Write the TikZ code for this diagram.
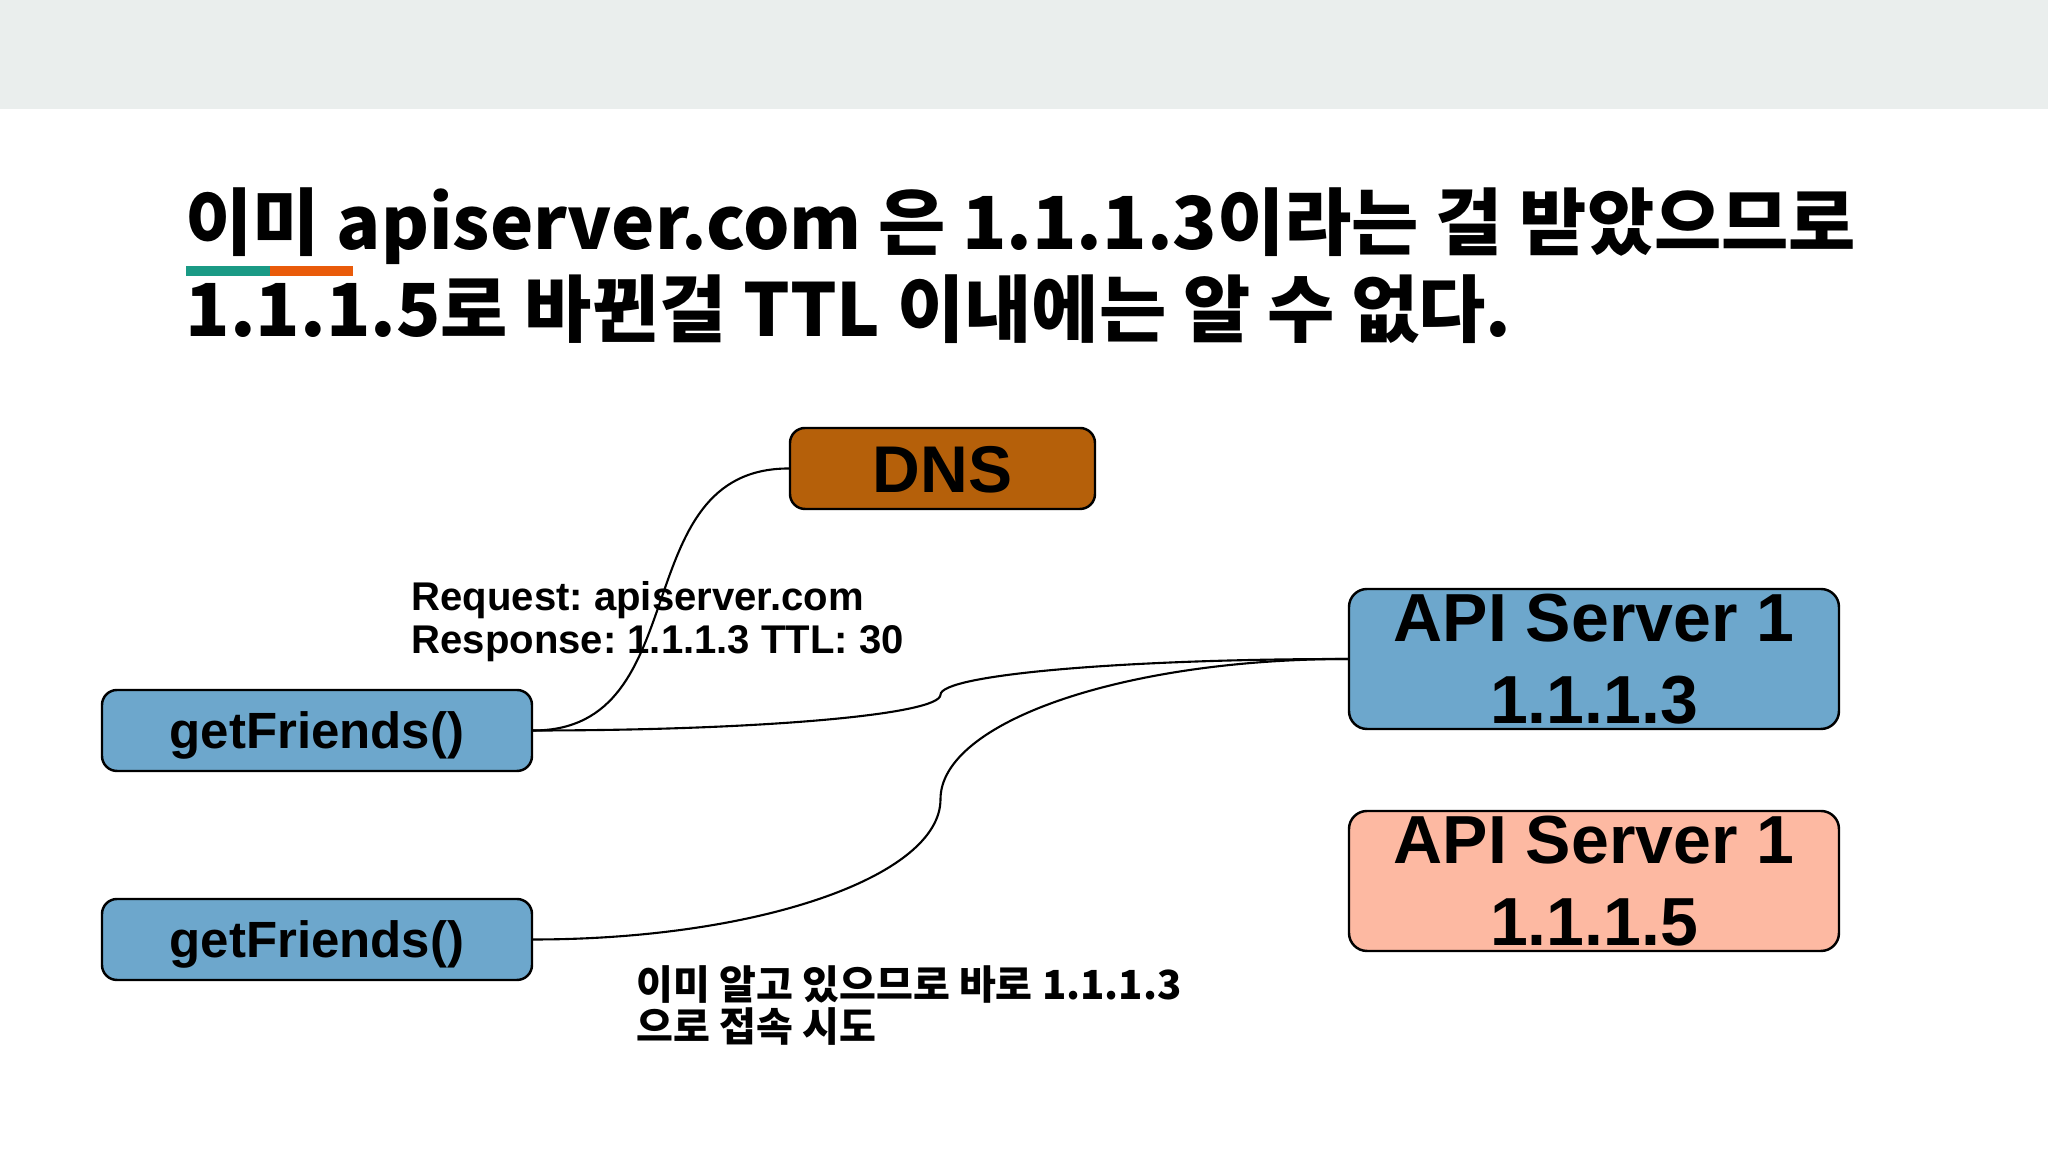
\documentclass[tikz,border=0pt]{standalone}
\usepackage{fontspec}
\setmainfont{Liberation Sans}
\newfontfamily\krfont{Noto Sans CJK KR}
\usetikzlibrary{calc, positioning}
\frenchspacing

\definecolor{bandgray}{HTML}{EAEEED}
\definecolor{tealbar}{HTML}{1A9A85}
\definecolor{orangebar}{HTML}{E95B0A}
\definecolor{dnsbrown}{HTML}{B5600A}
\definecolor{srvblue}{HTML}{6DA7CC}
\definecolor{srvsalmon}{HTML}{FDB9A2}

\begin{document}
\begin{tikzpicture}[
  box/.style={draw=black, line width=0.7pt, rounded corners=0.15cm, inner sep=0pt},
  callbox/.style={box, fill=srvblue, minimum width=4.30cm, minimum height=0.81cm,
    text height=10pt, text depth=0pt, font=\bfseries\fontsize{14.5pt}{16pt}\selectfont},
  srvbox/.style={box, rounded corners=0.18cm, minimum width=4.90cm, minimum height=1.40cm,
    align=center, font=\bfseries\fontsize{19.35pt}{23.3pt}\selectfont},
  wire/.style={draw=black, line width=0.6pt},
]
\useasboundingbox (0,0) rectangle (20.48,11.52);
\fill[white] (0,0) rectangle (20.48,11.52);
\fill[bandgray] (0,10.43) rectangle (20.48,11.52);

% title
\node[anchor=base west, inner sep=0pt, font=\krfont\bfseries\fontsize{20.8pt}{24.8pt}\selectfont]
  (title1) at (1.85,9.02) {이미 apiserver.com 은 1.1.1.3이라는 걸 받았으므로};
\node[anchor=base west, inner sep=0pt, font=\krfont\bfseries\fontsize{20.8pt}{24.8pt}\selectfont]
  (title2) at (1.85,8.15) {1.1.1.5로 바뀐걸 TTL 이내에는 알 수 없다.};
\fill[tealbar] (1.86,8.86) rectangle (2.70,8.76);
\fill[orangebar] (2.70,8.86) rectangle (3.53,8.76);

% boxes
\node[box, fill=dnsbrown, minimum width=3.05cm, minimum height=0.81cm,
  text height=13.4pt, text depth=0pt, font=\bfseries\fontsize{18.8pt}{20pt}\selectfont]
  (dns) at (9.425,6.835) {DNS};
\node[callbox] (gf1) at (3.17,4.215) {getFriends()};
\node[callbox] (gf2) at (3.17,2.125) {getFriends()};
\node[srvbox, fill=srvblue] (api1) at (15.94,4.93) {API Server 1\\1.1.1.3};
\node[srvbox, fill=srvsalmon] (api2) at (15.94,2.71) {API Server 1\\1.1.1.5};

% labels (base = last line)
\node[anchor=base west, inner sep=0pt, align=left, font=\bfseries\fontsize{11.4pt}{12.5pt}\selectfont]
  (reqlabel) at (4.11,4.98) {Request: apiserver.com\\Response: 1.1.1.3 TTL: 30};
\node[anchor=base west, inner sep=0pt, align=left, font=\krfont\bfseries\fontsize{11.4pt}{12.2pt}\selectfont]
  (cachelabel) at (6.36,1.10) {이미 알고 있으므로 바로 1.1.1.3\\으로 접속 시도};

% connectors
\coordinate (m1) at ($(gf1.east)!0.5!(api1.west)$);
\coordinate (m2) at ($(gf2.east)!0.5!(api1.west)$);
\draw[wire] (gf1.east) .. controls +(1.65,0) and +(-1.65,0) .. (dns.west);
\draw[wire] (gf1.east) .. controls +(2.25,0) and +(0,-0.2) .. (m1)
  .. controls +(0,0.2) and +(-2.25,0) .. (api1.west);
\draw[wire] (gf2.east) .. controls +(2.25,0) and +(0,-0.77) .. (m2)
  .. controls +(0,0.77) and +(-2.25,0) .. (api1.west);
\end{tikzpicture}
\end{document}
